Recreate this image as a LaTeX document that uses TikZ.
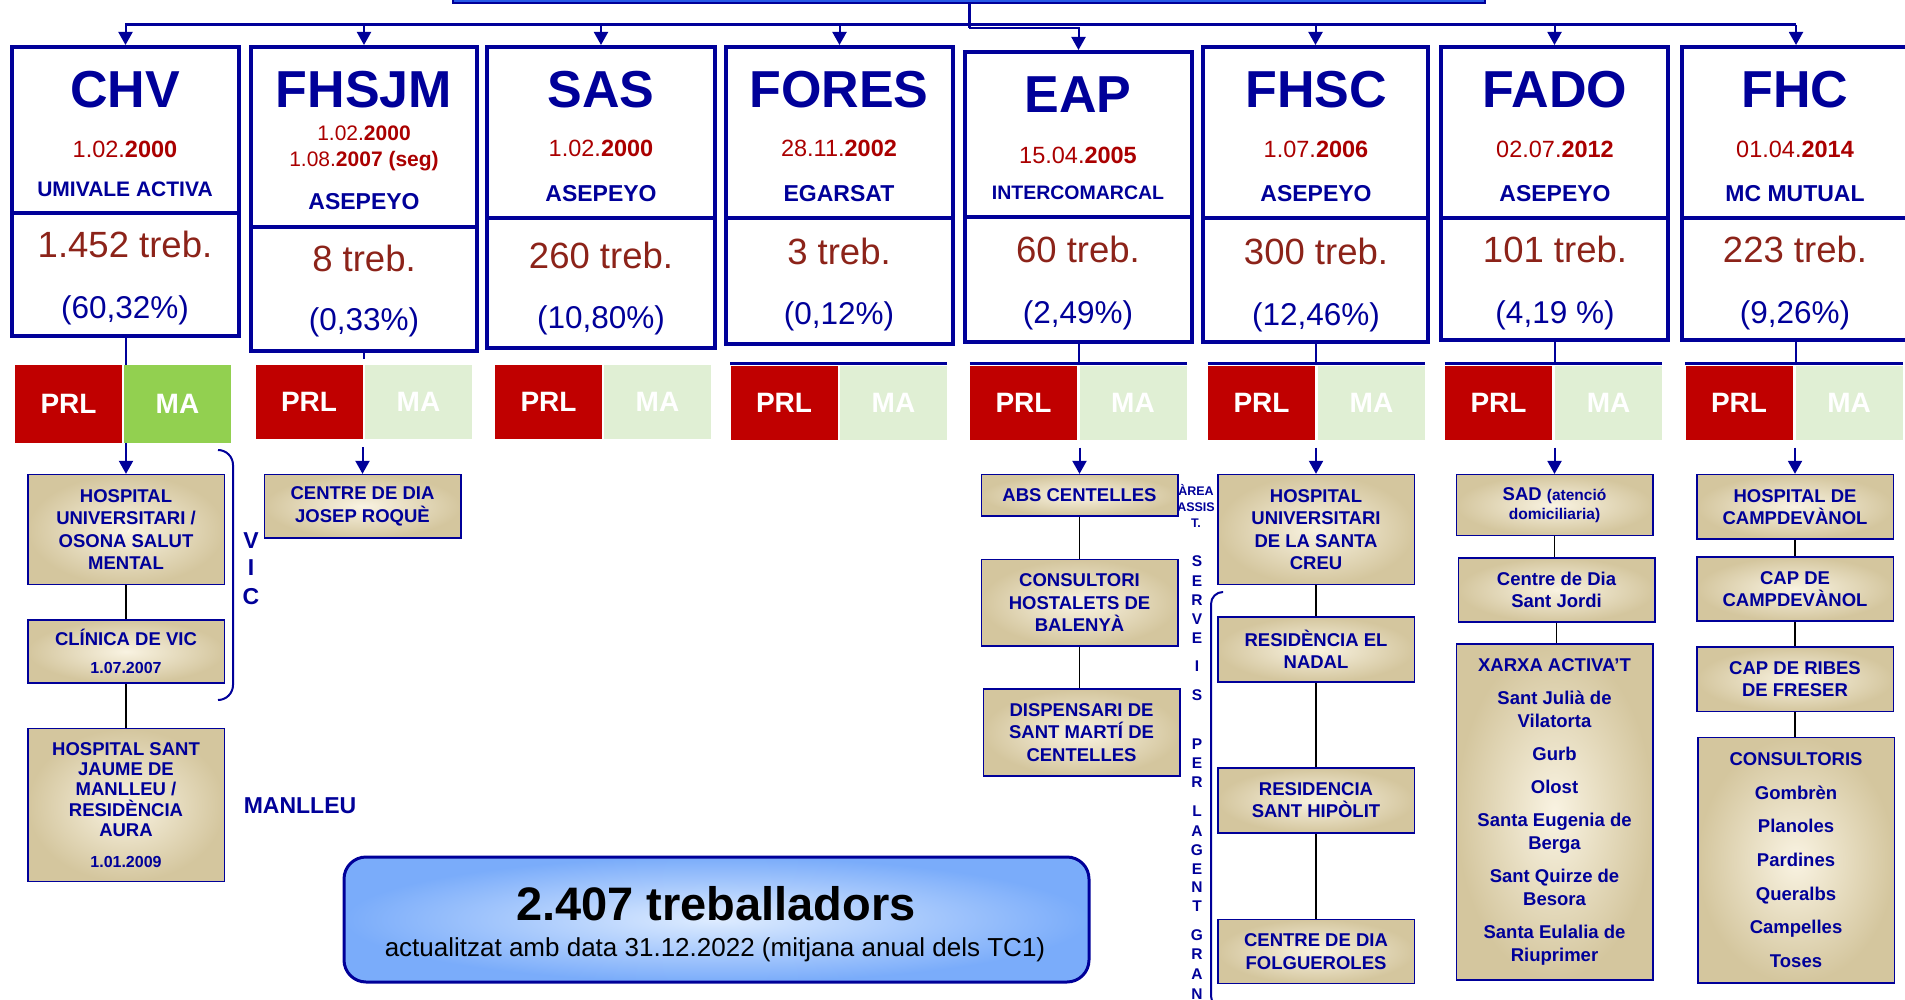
\documentclass[tikz,border=0pt]{standalone}
\usepackage{fontspec}
\setmainfont{Liberation Sans}
\usetikzlibrary{arrows.meta, fit, calc}

\definecolor{navy}{RGB}{0,0,153}
\definecolor{barblue}{RGB}{40,90,230}
\definecolor{datered}{RGB}{170,0,0}
\definecolor{cntbrown}{RGB}{140,35,25}
\definecolor{prlred}{RGB}{192,0,0}
\definecolor{magreen}{RGB}{146,208,80}
\definecolor{mapale}{RGB}{224,239,212}
\definecolor{kidin}{RGB}{249,243,226}
\definecolor{kidout}{RGB}{212,198,158}
\definecolor{sumin}{RGB}{222,236,255}
\definecolor{sumout}{RGB}{122,172,250}

\begin{document}
\begin{tikzpicture}[
    x=1pt, y=-1pt,
    unit/.style={draw=navy, line width=4pt, inner sep=0pt},
    ttl/.style={anchor=base, text=navy, font=\fontsize{52}{52}\selectfont\bfseries},
    dat/.style={anchor=base, text=datered, font=\fontsize{23.5}{28}\selectfont},
    mut/.style={anchor=base, text=navy, font=\fontsize{23}{23}\selectfont\bfseries},
    cnt/.style={anchor=base, text=cntbrown, font=\fontsize{36.5}{36.5}\selectfont},
    pct/.style={anchor=base, text=navy, font=\fontsize{31.5}{31.5}\selectfont},
    prl/.style={fill=prlred, inner sep=0pt, minimum width=107, minimum height=74,
        text=white, font=\fontsize{28}{28}\selectfont\bfseries},
    ma/.style={prl, fill=mapale},
    kid/.style={draw=navy, line width=1.5pt, inner sep=0pt, minimum width=196.5,
        inner color=kidin, outer color=kidout,
        align=center, text=navy, font=\fontsize{18.5}{22.3}\selectfont\bfseries},
    bus/.style={draw=navy, line width=3pt},
    stem/.style={draw=navy, line width=2pt},
    arr/.style={draw=navy, line width=2pt, -{Triangle[width=14pt,length=13pt]}},
    link/.style={draw=black, line width=1.5pt},
    vlet/.style={inner sep=0pt, text=navy, text depth=0pt}
]
\useasboundingbox (0,0) rectangle (1905,1000);

% top bar and bus
\node[draw=navy, line width=2pt, fill=barblue, inner sep=0pt, fit={(453,-30) (1485,3)}] (topbar) {};
\coordinate (busl) at (125,25);
\coordinate (busr) at (1796,25);
\coordinate (jog) at (969,28);

% CHV
\node[unit, fit={(12,47) (239,213)}] (chv) {};
\node[unit, fit={(12,213) (239,336)}] (chvcnt) {};
\node[ttl] (chvt) at (125,108) {CHV};
\node[dat] (chvd) at (125,158) {1.02.\textbf{2000}};
\node[mut, font=\fontsize{21}{21}\selectfont\bfseries] (chvm) at (125,197) {UMIVALE ACTIVA};
\node[cnt] (chvn) at (125,258) {1.452 treb.};
\node[pct] (chvp) at (125,318) {(60,32\%)};

% FHSJM
\node[unit, fit={(251,47) (477,227)}] (fhsjm) {};
\node[unit, fit={(251,227) (477,351)}] (fhsjmcnt) {};
\node[ttl] (fhsjmt) at (364,108) {FHSJM};
\node[dat, font=\fontsize{21}{21}\selectfont] (fhsjmd) at (364,141) {1.02.\textbf{2000}};
\node[dat, font=\fontsize{21}{21}\selectfont] (fhsjmd2) at (364,167) {1.08.\textbf{2007 (seg)}};
\node[mut] (fhsjmm) at (364,210) {ASEPEYO};
\node[cnt] (fhsjmn) at (364,272) {8 treb.};
\node[pct] (fhsjmp) at (364,330) {(0,33\%)};

% SAS
\node[unit, fit={(487,47) (715,218)}] (sas) {};
\node[unit, fit={(487,218) (715,348)}] (sascnt) {};
\node[ttl] (sast) at (601,108) {SAS};
\node[dat] (sasd) at (601,157) {1.02.\textbf{2000}};
\node[mut] (sasm) at (601,202) {ASEPEYO};
\node[cnt] (sasn) at (601,269) {260 treb.};
\node[pct] (sasp) at (601,328) {(10,80\%)};

% FORES
\node[unit, fit={(726,47) (953,218)}] (fores) {};
\node[unit, fit={(726,218) (953,344)}] (forescnt) {};
\node[ttl] (forest) at (839,108) {FORES};
\node[dat] (foresd) at (839,157) {28.11.\textbf{2002}};
\node[mut] (foresm) at (839,202) {EGARSAT};
\node[cnt] (foresn) at (839,265) {3 treb.};
\node[pct] (foresp) at (839,324) {(0,12\%)};

% EAP
\node[unit, fit={(965,52) (1192,217)}] (eap) {};
\node[unit, fit={(965,217) (1192,342)}] (eapcnt) {};
\node[ttl] (eapt) at (1078,113) {EAP};
\node[dat] (eapd) at (1078,164) {15.04.\textbf{2005}};
\node[mut, font=\fontsize{19.5}{19.5}\selectfont\bfseries] (eapm) at (1078,200) {INTERCOMARCAL};
\node[cnt] (eapn) at (1078,263) {60 treb.};
\node[pct] (eapp) at (1078,323) {(2,49\%)};

% FHSC
\node[unit, fit={(1203,47) (1428,218)}] (fhsc) {};
\node[unit, fit={(1203,218) (1428,342)}] (fhsccnt) {};
\node[ttl] (fhsct) at (1316,108) {FHSC};
\node[dat] (fhscd) at (1316,158) {1.07.\textbf{2006}};
\node[mut] (fhscm) at (1316,202) {ASEPEYO};
\node[cnt] (fhscn) at (1316,265) {300 treb.};
\node[pct] (fhscp) at (1316,325) {(12,46\%)};

% FADO
\node[unit, fit={(1441,47) (1668,218)}] (fado) {};
\node[unit, fit={(1441,218) (1668,340)}] (fadocnt) {};
\node[ttl] (fadot) at (1555,108) {FADO};
\node[dat] (fadod) at (1555,158) {02.07.\textbf{2012}};
\node[mut] (fadom) at (1555,202) {ASEPEYO};
\node[cnt] (fadon) at (1555,263) {101 treb.};
\node[pct] (fadop) at (1555,323) {(4,19 \%)};

% FHC
\node[unit, fit={(1682,47) (1910,218)}] (fhc) {};
\node[unit, fit={(1682,218) (1910,340)}] (fhccnt) {};
\node[ttl] (fhct) at (1795,108) {FHC};
\node[dat] (fhcd) at (1795,158) {01.04.\textbf{2014}};
\node[mut] (fhcm) at (1795,202) {MC MUTUAL};
\node[cnt] (fhcn) at (1795,263) {223 treb.};
\node[pct] (fhcp) at (1795,323) {(9,26\%)};

% PRL / MA
\node[prl, minimum height=78] (chvprl) at (68.5,404) {PRL};
\node[ma, minimum height=78, fill=magreen] (chvma) at (177.5,404) {MA};
\node[prl] (fhsjmprl) at (309,402) {PRL};
\node[ma] (fhsjmma) at (418.5,402) {MA};
\node[prl] (sasprl) at (548.5,402) {PRL};
\node[ma] (sasma) at (657.5,402) {MA};
\node[prl] (foresprl) at (784,402.5) {PRL};
\node[ma] (foresma) at (893.5,402.5) {MA};
\node[prl] (eapprl) at (1023.5,402.5) {PRL};
\node[ma] (eapma) at (1133,402.5) {MA};
\node[prl] (fhscprl) at (1261.5,402.5) {PRL};
\node[ma] (fhscma) at (1371.5,402.5) {MA};
\node[prl] (fadoprl) at (1498.5,402.5) {PRL};
\node[ma] (fadoma) at (1608.5,402.5) {MA};
\node[prl] (fhcprl) at (1739,402.5) {PRL};
\node[ma] (fhcma) at (1849,402.5) {MA};

% centres
\node[kid, minimum height=110] (chvk1) at (126,529.6) {HOSPITAL\\UNIVERSITARI /\\OSONA SALUT\\MENTAL};
\node[kid, minimum height=63] (chvk2) at (126,651.5) {CLÍNICA DE VIC\\[5pt]{\fontsize{16}{18}\selectfont 1.07.2007}};
\node[kid, minimum height=153, font=\fontsize{18.5}{20.3}\selectfont\bfseries] (chvk3) at (126,805.2)
    {HOSPITAL SANT\\JAUME DE\\MANLLEU /\\RESIDÈNCIA\\AURA\\[11pt]{\fontsize{16}{18}\selectfont 1.01.2009}};
\node[kid, minimum height=63.4] (fhsjmk1) at (362.5,506.3) {CENTRE DE DIA\\JOSEP ROQUÈ};
\node[kid, minimum height=41.4] (eapk1) at (1079.5,495.3) {ABS CENTELLES};
\node[kid, minimum height=86.4] (eapk2) at (1079.5,602.8) {CONSULTORI\\HOSTALETS DE\\BALENYÀ};
\node[kid, minimum height=86.7] (eapk3) at (1081.5,732.4) {DISPENSARI DE\\SANT MARTÍ DE\\CENTELLES};
\node[kid, minimum height=110] (fhsck1) at (1316,529.6) {HOSPITAL\\UNIVERSITARI\\DE LA SANTA\\CREU};
\node[kid, minimum height=65] (fhsck2) at (1316,649.3) {RESIDÈNCIA EL\\NADAL};
\node[kid, minimum height=65] (fhsck3) at (1316,800.4) {RESIDENCIA\\SANT HIPÒLIT};
\node[kid, minimum height=64.3] (fhsck4) at (1316,951.5) {CENTRE DE DIA\\FOLGUEROLES};
\node[kid, minimum height=61, font=\fontsize{18.5}{19}\selectfont\bfseries] (fadok1) at (1554.5,505.2)
    {SAD {\fontsize{15.5}{19}\selectfont(atenció}\\{\fontsize{15.5}{19}\selectfont domiciliaria)}};
\node[kid, minimum height=64] (fadok2) at (1556.5,590) {Centre de Dia\\Sant Jordi};
\node[kid, minimum height=336, font=\fontsize{18.5}{23}\selectfont\bfseries] (fadok3) at (1554.5,812)
    {XARXA ACTIVA’T\\[10pt]Sant Julià de\\Vilatorta\\[10pt]Gurb\\[10pt]Olost\\[10pt]Santa Eugenia de\\Berga\\[10pt]Sant Quirze de\\Besora\\[10pt]Santa Eulalia de\\Riuprimer};
\node[kid, minimum height=64.4] (fhck1) at (1795,506.8) {HOSPITAL DE\\CAMPDEVÀNOL};
\node[kid, minimum height=64] (fhck2) at (1795,589) {CAP DE\\CAMPDEVÀNOL};
\node[kid, minimum height=64.4] (fhck3) at (1795,679.2) {CAP DE RIBES\\DE FRESER};
\node[kid, minimum height=245.4] (fhck4) at (1796,860.2)
    {CONSULTORIS\\[11.3pt]Gombrèn\\[11.3pt]Planoles\\[11.3pt]Pardines\\[11.3pt]Queralbs\\[11.3pt]Campelles\\[11.3pt]Toses};

% area labels
\foreach \l/\yy [count=\i] in {V/540, I/567, C/596}
  \node[vlet, text height=16.5pt, font=\fontsize{23}{23}\selectfont\bfseries] (vic\i) at (251,\yy) {\l};
\node[vlet, text height=16.5pt, font=\fontsize{23}{23}\selectfont\bfseries] (manlleu) at (300,805) {MANLLEU};
\foreach \l/\yy [count=\i] in {ÀREA/491, ASSIS/507, T./523}
  \node[vlet, text height=9pt, font=\fontsize{12.5}{12.5}\selectfont\bfseries] (area\i) at (1196,\yy) {\l};
\foreach \l/\yy [count=\i] in {S/561, E/581, R/600, V/619, E/638, I/666, S/695, P/744, E/763, R/782,
    L/811, A/831, G/850, E/869, N/887, T/906, G/935, R/954, A/974, N/994}
  \node[vlet, text height=11pt, font=\fontsize{15.5}{15.5}\selectfont\bfseries] (svc\i) at (1197,\yy) {\l};

% brackets
\draw[stem, rounded corners=15pt] (218,450) -| (233,575) |- (218,700);
\draw[stem, rounded corners=12pt] (1222,592) -| (1211,800) |- (1222,1008);

% summary
\node[draw=navy, line width=3pt, rounded corners=22pt, inner sep=0pt, inner color=sumin, outer color=sumout,
    fit={(344,857) (1089,982)}] (summary) {};
\node[anchor=base, font=\fontsize{47}{47}\selectfont\bfseries] (total) at (716,920) {2.407 treballadors};
\node[anchor=base, font=\fontsize{26}{26}\selectfont] (upd) at (715,956) {actualitzat amb data 31.12.2022 (mitjana anual dels TC1)};

% connectors
\draw[bus] (busl) -- (busr);
\draw[bus] (topbar.south) -- (jog);
\draw[arr] (jog) -| (eap.north);
\foreach \u in {chv,fhsjm,sas,fores,fhsc,fado,fhc}
  \draw[arr] (\u.north |- busl) -- (\u.north);

\draw[stem] (chvcnt.south) -- (chvcnt.south |- chvprl.north);
\draw[arr] (chvk1.north |- chvprl.south) -- (chvk1.north);
\draw[stem] (fhsjmcnt.south) -- ($(fhsjmcnt.south)+(0,6)$);
\draw[arr] ($(fhsjmk1.north |- fhsjmprl.south)+(0,8)$) -- (fhsjmk1.north);
\foreach \u in {fores,eap,fhsc,fado,fhc}
  \draw[stem, line width=2.5pt] ([yshift=2pt]\u prl.north west) -- ([yshift=2pt]\u ma.north east);
\foreach \u in {eap,fhsc,fado,fhc}{
  \draw[stem] (\u cnt.south) -- (\u cnt.south |- \u prl.north);
  \draw[arr] ($(\u k1.north |- \u prl.south)+(0,8)$) -- (\u k1.north);
}
\foreach \a/\b in {chvk1/chvk2, chvk2/chvk3, eapk1/eapk2, eapk2/eapk3, fhsck1/fhsck2, fhsck2/fhsck3,
    fhsck3/fhsck4, fadok1/fadok2, fadok2/fadok3, fhck1/fhck2, fhck2/fhck3, fhck3/fhck4}
  \draw[link] (\a.south) -- (\a.south |- \b.north);
\end{tikzpicture}
\end{document}
